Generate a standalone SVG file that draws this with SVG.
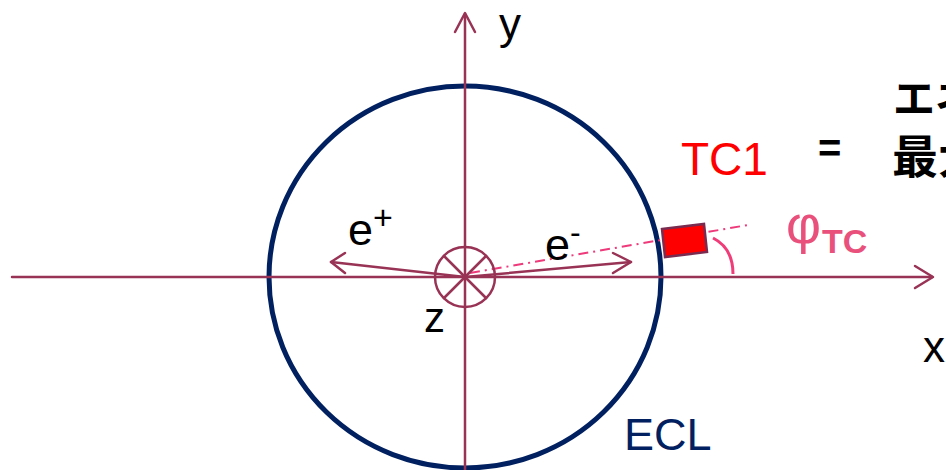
<svg xmlns="http://www.w3.org/2000/svg" width="946" height="470" viewBox="0 0 946 470">
<style>
.ax{stroke:#993355;stroke-width:2.5;fill:none;stroke-linecap:round;stroke-linejoin:round}
.lbl{font-family:"Liberation Sans",Arial,sans-serif;fill:#000}
.jp{font-family:"Noto Sans CJK JP",sans-serif;font-weight:bold;fill:#000}
</style>
<rect width="946" height="470" fill="#fff"/>
<g id="ecl">
<ellipse cx="465" cy="277" rx="196" ry="191" fill="none" stroke="#002060" stroke-width="5"/>
<text x="624" y="450" class="lbl" font-size="45" style="fill:#002060">ECL</text>
</g>
<g id="connectors">
<line class="ax" x1="12" y1="277" x2="932" y2="277"/>
<polyline class="ax" points="915,266 933,277 915,288"/>
<line class="ax" x1="465" y1="470" x2="465" y2="14"/>
<polyline class="ax" points="455,32 465,13 475,32"/>
<line class="ax" x1="465" y1="277" x2="331" y2="262"/>
<polyline class="ax" points="345,253 331,262 345,273"/>
<line class="ax" x1="465" y1="277" x2="631" y2="262"/>
<polyline class="ax" points="613,253 631,262 613,273"/>
<line x1="470" y1="273" x2="748" y2="225" stroke="#EE3A7A" stroke-width="2" stroke-dasharray="10,5,2,5"/>
<path d="M713 238 Q733 248 733 274" fill="none" stroke="#F03C78" stroke-width="3"/>
</g>
<g id="z-axis">
<circle cx="465" cy="277" r="30" class="ax" stroke-width="3"/>
<line class="ax" x1="444" y1="256" x2="486" y2="298"/>
<line class="ax" x1="486" y1="256" x2="444" y2="298"/>
</g>
<g id="tc1">
<polygon points="662,229 704,224 707,252 665,257" fill="#FF0000" stroke="#7A2B50" stroke-width="2.5"/>
</g>
<g id="labels">
<text x="499" y="39" class="lbl" font-size="44">y</text>
<text x="923" y="362" class="lbl" font-size="44">x</text>
<text x="424" y="332" class="lbl" font-size="42">z</text>
<text x="348" y="245" class="lbl" font-size="45">e<tspan font-size="34" dy="-16">+</tspan></text>
<text x="545" y="260" class="lbl" font-size="45">e<tspan font-size="32" dy="-17">-</tspan></text>
<text x="786" y="243" class="lbl" font-size="54" style="fill:#E9507B">φ</text>
<text x="822" y="253" class="lbl" font-size="34" font-weight="bold" style="fill:#E9507B">TC</text>
<text x="681" y="175" class="lbl" font-size="46" style="fill:#FF0000">TC1</text>
<text x="818" y="162" class="lbl" font-size="40" font-weight="bold">=</text>
<text x="893" y="114" class="jp" font-size="42">エネ</text>
<text x="892" y="173" class="jp" font-size="46">最大</text>
</g>
</svg>
